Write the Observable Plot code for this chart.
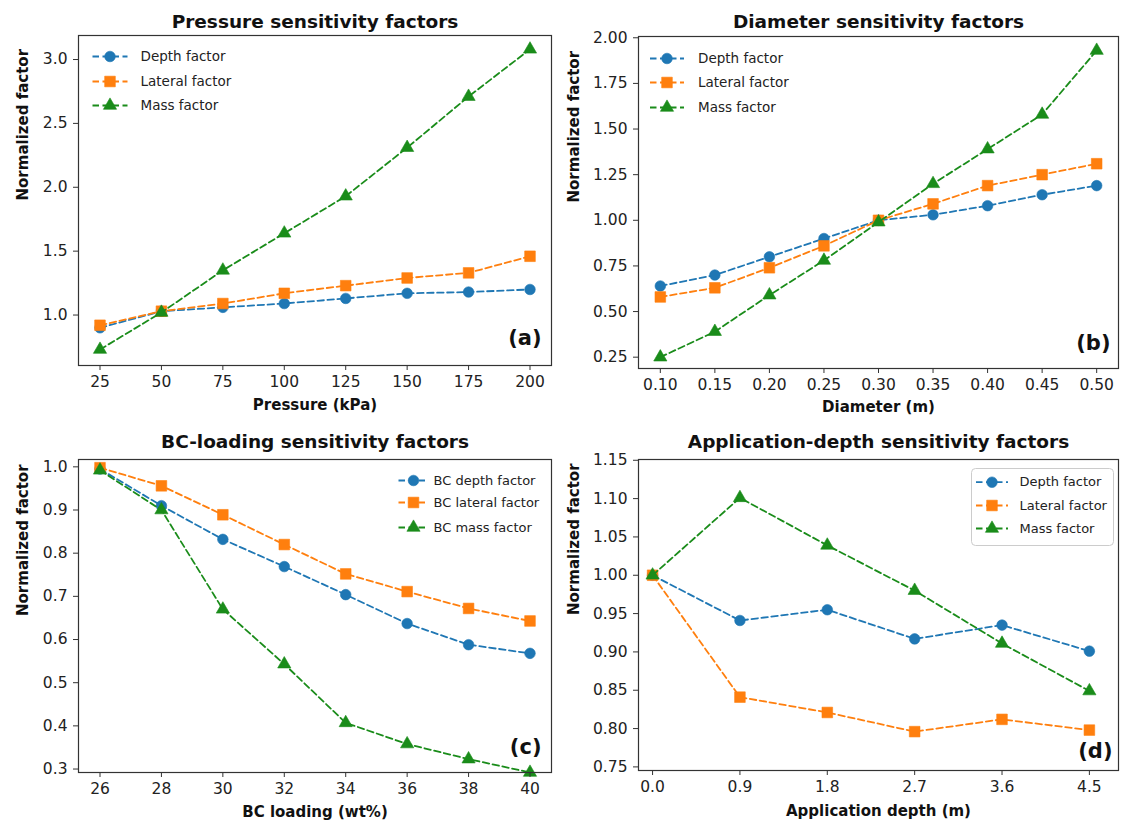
<!DOCTYPE html>
<html>
<head>
<meta charset="utf-8">
<script src="https://cdn.jsdelivr.net/npm/d3@7"></script>
<script src="https://cdn.jsdelivr.net/npm/@observablehq/plot@0.6"></script>
<style>
  body { margin: 0; background: #fff; }
  #fig { position: relative; width: 1122px; height: 826px; background: #fff; font-family: "DejaVu Sans", sans-serif; }
  #fig > svg { position: absolute; }
</style>
</head>
<body>
<div id="fig"></div>
<script>
// ---- (a) pressure sweep ----
const pressure = [25, 50, 75, 100, 125, 150, 175, 200];
const pressureDepth   = [0.90, 1.03, 1.06, 1.09, 1.13, 1.17, 1.18, 1.20];
const pressureLateral = [0.92, 1.03, 1.09, 1.17, 1.23, 1.29, 1.33, 1.46];
const pressureMass    = [0.73, 1.02, 1.35, 1.64, 1.93, 2.31, 2.71, 3.08];

// ---- (b) diameter sweep ----
const diameter = [0.10, 0.15, 0.20, 0.25, 0.30, 0.35, 0.40, 0.45, 0.50];
const diameterDepth   = [0.64, 0.70, 0.80, 0.90, 1.00, 1.03, 1.08, 1.14, 1.19];
const diameterLateral = [0.58, 0.63, 0.74, 0.86, 1.00, 1.09, 1.19, 1.25, 1.31];
const diameterMass    = [0.25, 0.39, 0.59, 0.78, 0.99, 1.20, 1.39, 1.58, 1.93];

// ---- (c) BC loading sweep ----
const bcLoading = [26, 28, 30, 32, 34, 36, 38, 40];
const bcDepth   = [0.995, 0.91, 0.832, 0.769, 0.704, 0.637, 0.588, 0.568];
const bcLateral = [0.998, 0.956, 0.889, 0.820, 0.752, 0.711, 0.672, 0.643];
const bcMass    = [0.992, 0.90, 0.670, 0.543, 0.407, 0.358, 0.323, 0.292];

// ---- (d) application depth sweep ----
const appDepth = [0.0, 0.9, 1.8, 2.7, 3.6, 4.5];
const appDepthDepth   = [1.000, 0.941, 0.955, 0.917, 0.935, 0.901];
const appDepthLateral = [1.000, 0.841, 0.821, 0.796, 0.812, 0.798];
const appDepthMass    = [1.000, 1.101, 1.039, 0.980, 0.911, 0.849];

// ---- tick values ----
const pressureTicks = [25, 50, 75, 100, 125, 150, 175, 200];
const pressureYTicks = [1.0, 1.5, 2.0, 2.5, 3.0];
const diameterTicks = [0.10, 0.15, 0.20, 0.25, 0.30, 0.35, 0.40, 0.45, 0.50];
const diameterYTicks = [0.25, 0.50, 0.75, 1.00, 1.25, 1.50, 1.75, 2.00];
const bcTicks = [26, 28, 30, 32, 34, 36, 38, 40];
const bcYTicks = [0.3, 0.4, 0.5, 0.6, 0.7, 0.8, 0.9, 1.0];
const appTicks = [0.0, 0.9, 1.8, 2.7, 3.6, 4.5];
const appYTicks = [0.75, 0.80, 0.85, 0.90, 0.95, 1.00, 1.05, 1.10, 1.15];

// ---- text ----
const seriesNames = ["Depth factor", "Lateral factor", "Mass factor"];
const bcSeriesNames = ["BC depth factor", "BC lateral factor", "BC mass factor"];
const titles = ["Pressure sensitivity factors", "Diameter sensitivity factors",
                "BC-loading sensitivity factors", "Application-depth sensitivity factors"];
const xLabels = ["Pressure (kPa)", "Diameter (m)", "BC loading (wt%)", "Application depth (m)"];
const yLabel = "Normalized factor";
const tags = ["(a)", "(b)", "(c)", "(d)"];

// ---- styling ----
const colors = ["#1f77b4", "#ff7f0e", "#1a8c1a"];
const symbols = ["circle", "square", "triangle"];
const symbolR = [5.3, 6.0, 4.9];
const dash = "6.5,3.5";
const ink = "#222";

// a horizontal stroke used as the legend's line sample
const lineSample = half => ({ draw(ctx) { ctx.moveTo(-half, 0); ctx.lineTo(half, 0); } });
// rounded rectangle used as a legend background
const boxShape = (w, h, r) => ({
  draw(ctx) {
    const x0 = -w / 2, y0 = -h / 2, x1 = w / 2, y1 = h / 2;
    ctx.moveTo(x0 + r, y0);
    ctx.lineTo(x1 - r, y0); ctx.arcTo(x1, y0, x1, y0 + r, r);
    ctx.lineTo(x1, y1 - r); ctx.arcTo(x1, y1, x1 - r, y1, r);
    ctx.lineTo(x0 + r, y1); ctx.arcTo(x0, y1, x0, y1 - r, r);
    ctx.lineTo(x0, y0 + r); ctx.arcTo(x0, y0, x0 + r, y0, r);
    ctx.closePath();
  }
});

const panels = [
  {
    left: 0, top: 0, width: 561, height: 420,
    margin: { top: 35, right: 10, bottom: 55, left: 78 },
    xs: pressure, ys: [pressureDepth, pressureLateral, pressureMass], names: seriesNames,
    xDomain: [16.25, 208.75], yDomain: [0.605, 3.188],
    xTicks: pressureTicks, yTicks: pressureYTicks, xFmt: d3.format("d"), yFmt: d3.format(".1f"),
    title: titles[0], xLabel: xLabels[0], tag: tags[0],
    titleDy: -13, xLabelDy: 40, yLabelDx: -55, tagDx: -10, tagDy: -27,
    legend: { anchor: "top-left", lineDx: 31.5, half: 17.5, textDx: 62, dys: [21, 46, 70], fontSize: 13.5 }
  },
  {
    left: 561, top: 0, width: 561, height: 420,
    margin: { top: 36, right: 4, bottom: 52, left: 77 },
    xs: diameter, ys: [diameterDepth, diameterLateral, diameterMass], names: seriesNames,
    xDomain: [0.08, 0.52], yDomain: [0.188, 2.007],
    xTicks: diameterTicks, yTicks: diameterYTicks, xFmt: d3.format(".2f"), yFmt: d3.format(".2f"),
    title: titles[1], xLabel: xLabels[1], tag: tags[1],
    titleDy: -14, xLabelDy: 39, yLabelDx: -64, tagDx: -8, tagDy: -25,
    legend: { anchor: "top-left", lineDx: 28.5, half: 17, textDx: 59.5, dys: [22, 46, 71], fontSize: 13.5 }
  },
  {
    left: 0, top: 420, width: 561, height: 406,
    margin: { top: 39, right: 10, bottom: 54, left: 78 },
    xs: bcLoading, ys: [bcDepth, bcLateral, bcMass], names: bcSeriesNames,
    xDomain: [25.3, 40.7], yDomain: [0.292, 1.017],
    xTicks: bcTicks, yTicks: bcYTicks, xFmt: d3.format("d"), yFmt: d3.format(".1f"),
    title: titles[2], xLabel: xLabels[2], tag: tags[2],
    titleDy: -17, xLabelDy: 40, yLabelDx: -55, tagDx: -10, tagDy: -25,
    legend: { anchor: "top-right", lineDx: -138, half: 15, textDx: -118, dys: [21, 43, 68], fontSize: 13 }
  },
  {
    left: 561, top: 420, width: 561, height: 406,
    margin: { top: 39, right: 4, bottom: 56, left: 77 },
    xs: appDepth, ys: [appDepthDepth, appDepthLateral, appDepthMass], names: seriesNames,
    xDomain: [-0.145, 4.8], yDomain: [0.7453, 1.151],
    xTicks: appTicks, yTicks: appYTicks, xFmt: d3.format(".1f"), yFmt: d3.format(".2f"),
    title: titles[3], xLabel: xLabels[3], tag: tags[3],
    titleDy: -17, xLabelDy: 41, yLabelDx: -64, tagDx: -6, tagDy: -19,
    legend: { anchor: "top-right", lineDx: -126.5, half: 16, textDx: -99, dys: [22.7, 46, 69], fontSize: 13,
              box: { dx: -76, dy: 47.5, w: 142, h: 77 } }
  }
];

const fig = document.getElementById("fig");

for (const p of panels) {
  const marks = [];

  // data series: dashed line with markers, drawn in series order
  p.ys.forEach((vals, k) => {
    marks.push(Plot.line(vals, {
      x: (d, i) => p.xs[i], y: d => d,
      stroke: colors[k], strokeWidth: 1.8, strokeDasharray: dash
    }));
    marks.push(Plot.dot(vals, {
      x: (d, i) => p.xs[i], y: d => d,
      symbol: symbols[k], r: symbolR[k], fill: colors[k], stroke: colors[k], strokeWidth: 0.6
    }));
  });

  // legend
  const L = p.legend;
  if (L.box) {
    marks.push(Plot.dot([0], {
      frameAnchor: L.anchor, dx: L.box.dx, dy: L.box.dy,
      symbol: boxShape(L.box.w, L.box.h, 4), r: 1,
      fill: "white", fillOpacity: 0.85, stroke: "#cccccc", strokeWidth: 1
    }));
  }
  p.names.forEach((name, k) => {
    marks.push(Plot.dot([name], {
      frameAnchor: L.anchor, dx: L.lineDx, dy: L.dys[k],
      symbol: lineSample(L.half), r: 1, fill: "none",
      stroke: colors[k], strokeWidth: 1.8, strokeDasharray: dash
    }));
    marks.push(Plot.dot([name], {
      frameAnchor: L.anchor, dx: L.lineDx, dy: L.dys[k],
      symbol: symbols[k], r: symbolR[k], fill: colors[k], stroke: colors[k], strokeWidth: 0.6
    }));
    marks.push(Plot.text([name], {
      frameAnchor: L.anchor, dx: L.textDx, dy: L.dys[k], text: d => d,
      textAnchor: "start", lineAnchor: "middle", fontSize: L.fontSize, fill: ink
    }));
  });

  // axes and frame
  marks.push(Plot.axisX({
    ticks: p.xTicks, tickFormat: p.xFmt, tickSize: 5, tickPadding: 5,
    fontSize: 15.5, fill: ink, stroke: "#333", label: null
  }));
  marks.push(Plot.axisY({
    ticks: p.yTicks, tickFormat: p.yFmt, tickSize: 5, tickPadding: 6,
    fontSize: 15.5, fill: ink, stroke: "#333", label: null
  }));
  marks.push(Plot.frame({ stroke: "#333", strokeWidth: 1.2 }));

  // titles, axis labels, panel tag
  marks.push(Plot.text([p.title], {
    frameAnchor: "top", dy: p.titleDy, text: d => d, lineAnchor: "middle",
    fontSize: 18.5, fontWeight: "bold", fill: "#111"
  }));
  marks.push(Plot.text([p.xLabel], {
    frameAnchor: "bottom", dy: p.xLabelDy, text: d => d, lineAnchor: "middle",
    fontSize: 15, fontWeight: "bold", fill: "#111"
  }));
  marks.push(Plot.text([yLabel], {
    frameAnchor: "left", dx: p.yLabelDx, rotate: -90, text: d => d, lineAnchor: "middle",
    fontSize: 15, fontWeight: "bold", fill: "#111"
  }));
  marks.push(Plot.text([p.tag], {
    frameAnchor: "bottom-right", dx: p.tagDx, dy: p.tagDy, text: d => d,
    textAnchor: "end", lineAnchor: "middle", fontSize: 21, fontWeight: "bold", fill: "#111"
  }));

  const svg = Plot.plot({
    width: p.width, height: p.height,
    marginTop: p.margin.top, marginRight: p.margin.right,
    marginBottom: p.margin.bottom, marginLeft: p.margin.left,
    x: { domain: p.xDomain },
    y: { domain: p.yDomain },
    style: { fontFamily: "DejaVu Sans, sans-serif", fontSize: "15px", background: "transparent", overflow: "visible" },
    marks
  });
  svg.style.left = p.left + "px";
  svg.style.top = p.top + "px";
  fig.appendChild(svg);
}
</script>
</body>
</html>
